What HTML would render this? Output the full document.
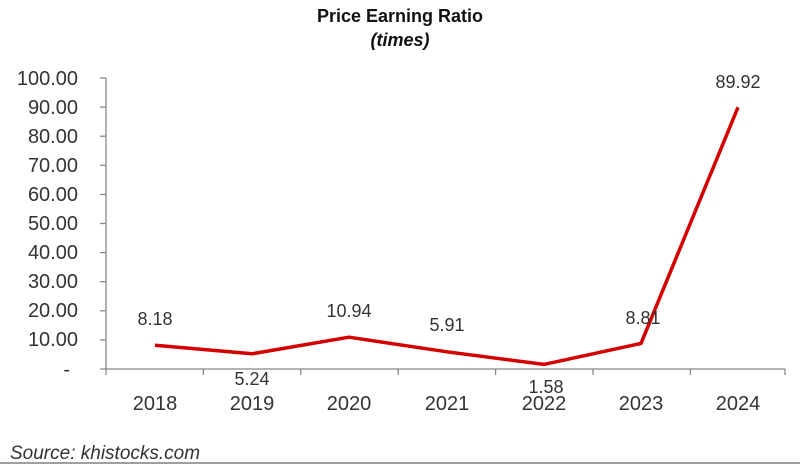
<!DOCTYPE html>
<html><head><style>body{margin:0;background:#fff}</style></head><body>
<svg width="800" height="466" xmlns="http://www.w3.org/2000/svg" font-family="Liberation Sans, sans-serif">
<text x="400" y="22" text-anchor="middle" font-size="18" font-weight="bold" fill="#111">Price Earning Ratio</text>
<text x="400" y="46" text-anchor="middle" font-size="18" font-weight="bold" font-style="italic" fill="#111">(times)</text>
<g stroke="#888" stroke-width="1.3" fill="none">
<line x1="106" y1="78" x2="106" y2="369"/>
<line x1="106" y1="369" x2="785" y2="369"/>
<line x1="0" y1="463" x2="800" y2="463" stroke="#666"/>
</g>
<g stroke="#888" stroke-width="1.3">
<line x1="100" y1="78" x2="106" y2="78"/><line x1="100" y1="107.1" x2="106" y2="107.1"/><line x1="100" y1="136.2" x2="106" y2="136.2"/><line x1="100" y1="165.3" x2="106" y2="165.3"/><line x1="100" y1="194.4" x2="106" y2="194.4"/><line x1="100" y1="223.5" x2="106" y2="223.5"/><line x1="100" y1="252.6" x2="106" y2="252.6"/><line x1="100" y1="281.7" x2="106" y2="281.7"/><line x1="100" y1="310.8" x2="106" y2="310.8"/><line x1="100" y1="339.9" x2="106" y2="339.9"/><line x1="100" y1="369" x2="106" y2="369"/>
<line x1="106" y1="369" x2="106" y2="375"/><line x1="203.4" y1="369" x2="203.4" y2="375"/><line x1="300.8" y1="369" x2="300.8" y2="375"/><line x1="398.2" y1="369" x2="398.2" y2="375"/><line x1="495.6" y1="369" x2="495.6" y2="375"/><line x1="593" y1="369" x2="593" y2="375"/><line x1="690.4" y1="369" x2="690.4" y2="375"/><line x1="785" y1="369" x2="785" y2="375"/>
</g>
<g font-size="20" fill="#333" text-anchor="end">
<text x="78" y="85">100.00</text><text x="78" y="114">90.00</text><text x="78" y="143">80.00</text><text x="78" y="172">70.00</text><text x="78" y="201">60.00</text><text x="78" y="230">50.00</text><text x="78" y="259">40.00</text><text x="78" y="288">30.00</text><text x="78" y="317">20.00</text><text x="78" y="346">10.00</text><text x="70" y="376">-</text>
</g>
<g font-size="20" fill="#333" text-anchor="middle">
<text x="155" y="410">2018</text><text x="252" y="410">2019</text><text x="349" y="410">2020</text><text x="447" y="410">2021</text><text x="544" y="410">2022</text><text x="641" y="410">2023</text><text x="738" y="410">2024</text>
</g>
<polyline points="155,345.2 252,353.8 349,337.2 447,351.8 544,364.4 641,343.4 738,107.3" fill="none" stroke="#d40000" stroke-width="3.5" stroke-linejoin="round"/>
<g font-size="18" fill="#333" text-anchor="middle">
<text x="155" y="325">8.18</text><text x="252" y="385">5.24</text><text x="349" y="317">10.94</text><text x="447" y="331">5.91</text><text x="546" y="393">1.58</text><text x="643" y="324">8.81</text><text x="738" y="88">89.92</text>
</g>
<text x="10" y="459" font-size="19" font-style="italic" fill="#333">Source: khistocks.com</text>
</svg>
</body></html>
